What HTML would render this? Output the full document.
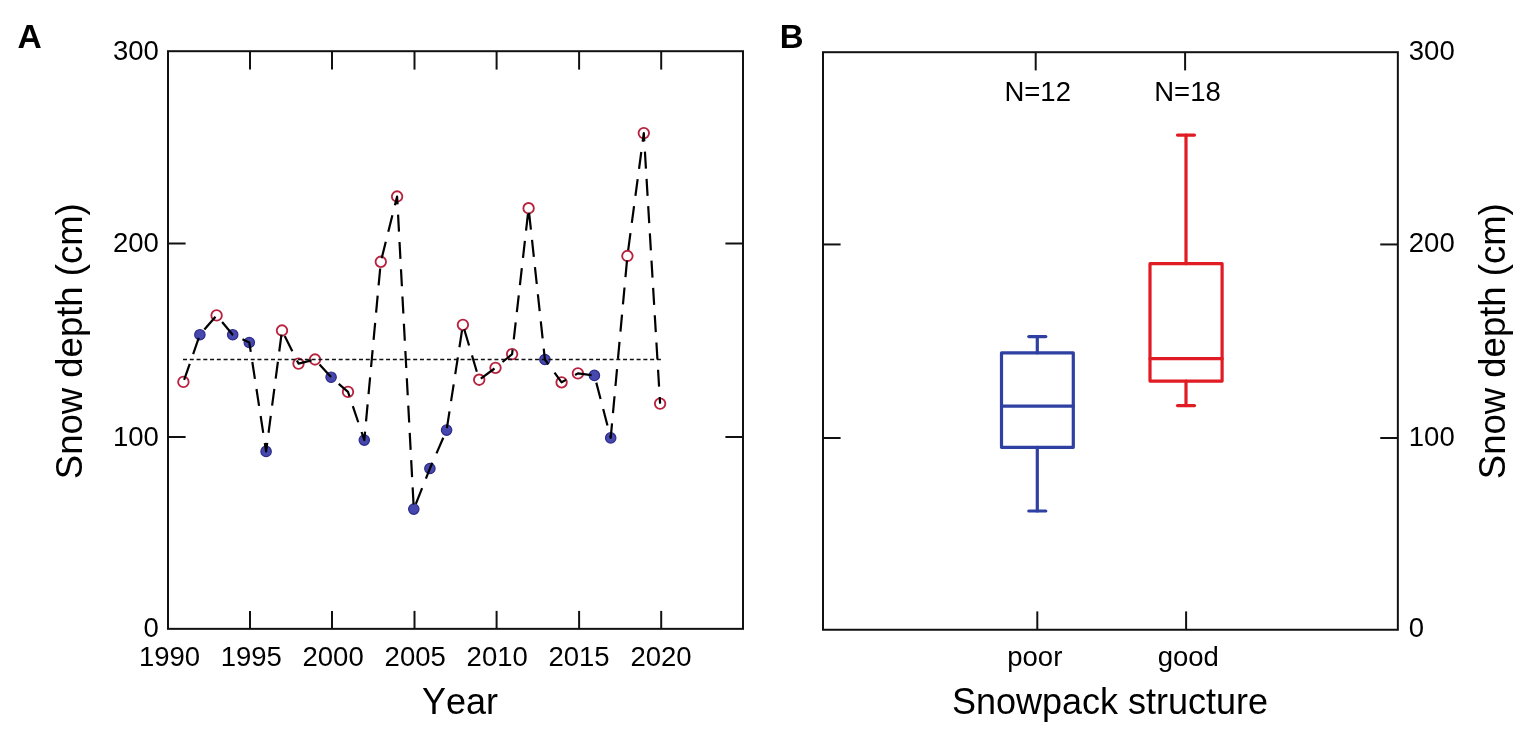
<!DOCTYPE html>
<html><head><meta charset="utf-8"><title>Snow depth</title>
<style>html,body{margin:0;padding:0;background:#fff;}body{width:1535px;height:737px;overflow:hidden;}svg{display:block;}text{font-family:"Liberation Sans", Arial, Helvetica, sans-serif;fill:#000;font-kerning:none;}</style>
</head><body>
<svg width="1535" height="737" viewBox="0 0 1535 737">
<rect width="1535" height="737" fill="#fff"/>
<g stroke="#111" stroke-width="2" fill="none">
<rect x="168.00" y="51.20" width="575.00" height="577.65"/>
<line x1="250.0" y1="51.20" x2="250.0" y2="69.60"/>
<line x1="250.0" y1="628.85" x2="250.0" y2="610.90"/>
<line x1="332.0" y1="51.20" x2="332.0" y2="69.60"/>
<line x1="332.0" y1="628.85" x2="332.0" y2="610.90"/>
<line x1="414.5" y1="51.20" x2="414.5" y2="69.60"/>
<line x1="414.5" y1="628.85" x2="414.5" y2="610.90"/>
<line x1="496.6" y1="51.20" x2="496.6" y2="69.60"/>
<line x1="496.6" y1="628.85" x2="496.6" y2="610.90"/>
<line x1="579.1" y1="51.20" x2="579.1" y2="69.60"/>
<line x1="579.1" y1="628.85" x2="579.1" y2="610.90"/>
<line x1="661.2" y1="51.20" x2="661.2" y2="69.60"/>
<line x1="661.2" y1="628.85" x2="661.2" y2="610.90"/>
<line x1="168.00" y1="243.5" x2="185.60" y2="243.5"/>
<line x1="743.00" y1="243.5" x2="725.40" y2="243.5"/>
<line x1="168.00" y1="437.0" x2="185.60" y2="437.0"/>
<line x1="743.00" y1="437.0" x2="725.40" y2="437.0"/>
</g>
<circle cx="183.4" cy="381.9" r="5.25" fill="#fff" stroke="#b8223f" stroke-width="1.85"/>
<circle cx="199.9" cy="334.7" r="5.2" fill="#4648ae" stroke="#2c2b8c" stroke-width="1.2"/>
<circle cx="216.6" cy="315.4" r="5.25" fill="#fff" stroke="#b8223f" stroke-width="1.85"/>
<circle cx="232.7" cy="334.7" r="5.2" fill="#4648ae" stroke="#2c2b8c" stroke-width="1.2"/>
<circle cx="249.3" cy="342.5" r="5.2" fill="#4648ae" stroke="#2c2b8c" stroke-width="1.2"/>
<circle cx="266.1" cy="451.4" r="5.2" fill="#4648ae" stroke="#2c2b8c" stroke-width="1.2"/>
<circle cx="282.0" cy="330.5" r="5.25" fill="#fff" stroke="#b8223f" stroke-width="1.85"/>
<circle cx="298.5" cy="363.6" r="5.25" fill="#fff" stroke="#b8223f" stroke-width="1.85"/>
<circle cx="315.0" cy="359.5" r="5.25" fill="#fff" stroke="#b8223f" stroke-width="1.85"/>
<circle cx="331.1" cy="377.2" r="5.2" fill="#4648ae" stroke="#2c2b8c" stroke-width="1.2"/>
<circle cx="348.0" cy="391.9" r="5.25" fill="#fff" stroke="#b8223f" stroke-width="1.85"/>
<circle cx="364.3" cy="440.1" r="5.2" fill="#4648ae" stroke="#2c2b8c" stroke-width="1.2"/>
<circle cx="380.8" cy="261.8" r="5.25" fill="#fff" stroke="#b8223f" stroke-width="1.85"/>
<circle cx="397.1" cy="196.5" r="5.25" fill="#fff" stroke="#b8223f" stroke-width="1.85"/>
<circle cx="413.8" cy="509.1" r="5.2" fill="#4648ae" stroke="#2c2b8c" stroke-width="1.2"/>
<circle cx="429.9" cy="468.5" r="5.2" fill="#4648ae" stroke="#2c2b8c" stroke-width="1.2"/>
<circle cx="446.6" cy="430.1" r="5.2" fill="#4648ae" stroke="#2c2b8c" stroke-width="1.2"/>
<circle cx="462.9" cy="324.8" r="5.25" fill="#fff" stroke="#b8223f" stroke-width="1.85"/>
<circle cx="479.2" cy="379.7" r="5.25" fill="#fff" stroke="#b8223f" stroke-width="1.85"/>
<circle cx="495.5" cy="367.8" r="5.25" fill="#fff" stroke="#b8223f" stroke-width="1.85"/>
<circle cx="512.1" cy="354.1" r="5.25" fill="#fff" stroke="#b8223f" stroke-width="1.85"/>
<circle cx="528.6" cy="208.2" r="5.25" fill="#fff" stroke="#b8223f" stroke-width="1.85"/>
<circle cx="544.9" cy="359.5" r="5.2" fill="#4648ae" stroke="#2c2b8c" stroke-width="1.2"/>
<circle cx="561.6" cy="382.3" r="5.25" fill="#fff" stroke="#b8223f" stroke-width="1.85"/>
<circle cx="577.9" cy="373.4" r="5.25" fill="#fff" stroke="#b8223f" stroke-width="1.85"/>
<circle cx="594.4" cy="375.4" r="5.2" fill="#4648ae" stroke="#2c2b8c" stroke-width="1.2"/>
<circle cx="610.7" cy="437.9" r="5.2" fill="#4648ae" stroke="#2c2b8c" stroke-width="1.2"/>
<circle cx="627.4" cy="256.0" r="5.25" fill="#fff" stroke="#b8223f" stroke-width="1.85"/>
<circle cx="643.8" cy="133.1" r="5.25" fill="#fff" stroke="#b8223f" stroke-width="1.85"/>
<circle cx="660.1" cy="403.6" r="5.25" fill="#fff" stroke="#b8223f" stroke-width="1.85"/>
<line x1="183" y1="359.5" x2="661.7" y2="359.5" stroke="#111" stroke-width="1.7" stroke-dasharray="4 2.77"/>
<polyline points="183.4,381.9 199.9,334.7 216.6,315.4 232.7,334.7 249.3,342.5 266.1,451.4 282.0,330.5 298.5,363.6 315.0,359.5 331.1,377.2 348.0,391.9 364.3,440.1 380.8,261.8 397.1,196.5 413.8,509.1 429.9,468.5 446.6,430.1 462.9,324.8 479.2,379.7 495.5,367.8 512.1,354.1 528.6,208.2 544.9,359.5 561.6,382.3 577.9,373.4 594.4,375.4 610.7,437.9 627.4,256.0 643.8,133.1 660.1,403.6" fill="none" stroke="#000" stroke-width="2.2" stroke-dasharray="17.00 10.31" stroke-dashoffset="25.10" stroke-linejoin="round"/>
<text x="17.4" y="47.8" font-size="33.6" font-weight="bold">A</text>
<text x="158.8" y="59.8" font-size="27.5" text-anchor="end">300</text>
<text x="158.8" y="252.2" font-size="27.5" text-anchor="end">200</text>
<text x="158.8" y="445.9" font-size="27.5" text-anchor="end">100</text>
<text x="158.8" y="636.8" font-size="27.5" text-anchor="end">0</text>
<text x="169.5" y="665.7" font-size="27.5" text-anchor="middle">1990</text>
<text x="251.3" y="665.7" font-size="27.5" text-anchor="middle">1995</text>
<text x="333.1" y="665.7" font-size="27.5" text-anchor="middle">2000</text>
<text x="415.2" y="665.7" font-size="27.5" text-anchor="middle">2005</text>
<text x="497.2" y="665.7" font-size="27.5" text-anchor="middle">2010</text>
<text x="579.0" y="665.7" font-size="27.5" text-anchor="middle">2015</text>
<text x="661.0" y="665.7" font-size="27.5" text-anchor="middle">2020</text>
<text x="460" y="714" font-size="36" text-anchor="middle">Year</text>
<text transform="translate(81.8,341.2) rotate(-90)" font-size="36.5" text-anchor="middle">Snow depth (cm)</text>
<g stroke="#111" stroke-width="2" fill="none">
<rect x="823.00" y="52.20" width="574.85" height="577.55"/>
<line x1="1035.7" y1="52.20" x2="1035.7" y2="70.40"/>
<line x1="1185.1" y1="52.20" x2="1185.1" y2="70.40"/>
<line x1="1037.3" y1="629.75" x2="1037.3" y2="611.40"/>
<line x1="1186.1" y1="629.75" x2="1186.1" y2="611.40"/>
<line x1="823.00" y1="244.45" x2="840.60" y2="244.45"/>
<line x1="1397.85" y1="244.45" x2="1380.25" y2="244.45"/>
<line x1="823.00" y1="438.00" x2="840.60" y2="438.00"/>
<line x1="1397.85" y1="438.00" x2="1380.25" y2="438.00"/>
</g>
<g stroke="#2f40a3" stroke-width="3.2" fill="none" stroke-linecap="round" stroke-linejoin="round">
<rect x="1001.5" y="352.8" width="71.8" height="94.5"/>
<line x1="1001.5" y1="406.1" x2="1073.3" y2="406.1"/>
<line x1="1037.3" y1="352.8" x2="1037.3" y2="336.6"/>
<line x1="1037.3" y1="447.3" x2="1037.3" y2="511.0"/>
<line x1="1028.8" y1="336.6" x2="1045.8" y2="336.6"/>
<line x1="1028.8" y1="511.0" x2="1045.8" y2="511.0"/>
</g>
<g stroke="#e11b23" stroke-width="3.2" fill="none" stroke-linecap="round" stroke-linejoin="round">
<rect x="1150.0" y="263.7" width="72.1" height="117.4"/>
<line x1="1150.0" y1="358.6" x2="1222.1" y2="358.6"/>
<line x1="1186.0" y1="263.7" x2="1186.0" y2="135.1"/>
<line x1="1186.0" y1="381.1" x2="1186.0" y2="405.6"/>
<line x1="1177.5" y1="135.1" x2="1194.5" y2="135.1"/>
<line x1="1177.5" y1="405.6" x2="1194.5" y2="405.6"/>
</g>
<text x="779.8" y="47.8" font-size="33" font-weight="bold">B</text>
<text x="1408.8" y="59.6" font-size="27.5">300</text>
<text x="1408.8" y="252.2" font-size="27.5">200</text>
<text x="1408.8" y="445.9" font-size="27.5">100</text>
<text x="1408.8" y="636.8" font-size="27.5">0</text>
<text x="1037.7" y="101.3" font-size="27.5" text-anchor="middle">N=12</text>
<text x="1187.5" y="101.3" font-size="27.5" text-anchor="middle">N=18</text>
<text x="1034.8" y="665.7" font-size="27.5" text-anchor="middle">poor</text>
<text x="1188.3" y="665.7" font-size="27.5" text-anchor="middle">good</text>
<text x="1110" y="713.8" font-size="36" text-anchor="middle">Snowpack structure</text>
<text transform="translate(1505.2,341.2) rotate(-90)" font-size="36.5" text-anchor="middle">Snow depth (cm)</text>
</svg>
</body></html>
